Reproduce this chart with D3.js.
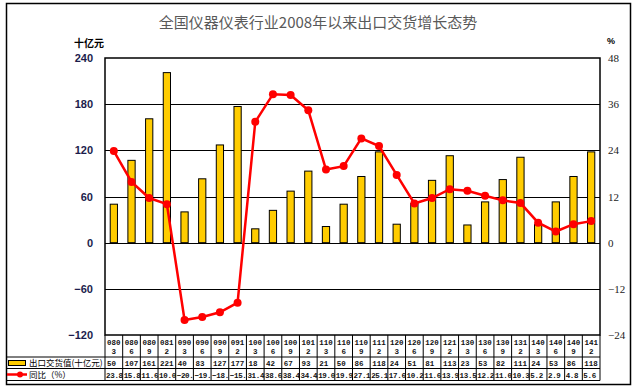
<!DOCTYPE html>
<html>
<head>
<meta charset="utf-8">
<script src="https://cdn.jsdelivr.net/npm/d3@7"></script>
<style>
body { margin: 0; background: #fff; }
</style>
</head>
<body>
<script>
// quarterly categories (yymm)
var categories = ["0803","0806","0809","0812","0903","0906","0909","0912","1003","1006","1009","1012",
    "1103","1106","1109","1112","1203","1206","1209","1212","1303","1306","1309","1312","1403","1406","1409","1412"];
// export delivery value, billion yuan
var exportValue = [50,107,161,221,40,83,127,177,18,42,67,93,21,50,86,118,24,51,81,113,23,53,82,111,24,53,86,118];
// year-on-year growth, %
var yoyGrowth = [23.8,15.8,11.6,10.0,-20.1,-19.3,-18.1,-15.6,31.4,38.6,38.4,34.4,19.0,19.9,27.1,25.1,17.6,10.2,11.6,13.9,13.5,12.2,11.0,10.3,5.2,2.9,4.8,5.6];
var leftTicks = [-120,-60,0,60,120,180,240];
var rightTicks = [-24,-12,0,12,24,36,48];

var w = 637, h = 390;
var plot = {left: 105, right: 600, top: 58, bottom: 335};

var svg = d3.select("body").append("svg")
    .attr("width", w)
    .attr("height", h);

//outer frame
svg.append("rect")
    .attr("x", 6.5).attr("y", 3.5)
    .attr("width", 624).attr("height", 381)
    .attr("fill", "#fff").attr("stroke", "#000").attr("stroke-width", 1.5);

var x = d3.scaleBand()
    .domain(categories)
    .range([plot.left, plot.right])
    .paddingInner(0).paddingOuter(0);

var yL = d3.scaleLinear().domain([-120, 240]).range([plot.bottom, plot.top]);
var yR = d3.scaleLinear().domain([-24, 48]).range([plot.bottom, plot.top]);

//title
svg.append("text")
    .attr("x", 318).attr("y", 28)
    .attr("text-anchor", "middle")
    .style("font-family", "'Noto Sans CJK SC', sans-serif")
    .style("font-size", "15px")
    .style("fill", "#595959")
    .text("全国仪器仪表行业2008年以来出口交货增长态势");

//unit labels
svg.append("text")
    .attr("x", 89).attr("y", 47)
    .attr("text-anchor", "middle")
    .style("font-family", "'Noto Sans CJK SC', sans-serif")
    .style("font-weight", "bold")
    .style("font-size", "10px")
    .text("十亿元");
svg.append("text")
    .attr("x", 607).attr("y", 44)
    .style("font-family", "'Liberation Sans', sans-serif")
    .style("font-weight", "bold")
    .style("font-size", "9px")
    .text("%");

//gridlines
svg.append("g").selectAll("line")
    .data(leftTicks.filter(function (d) { return d > -120 && d < 240; }))
    .enter().append("line")
    .attr("x1", plot.left).attr("x2", plot.right)
    .attr("y1", function (d) { return Math.round(yL(d)) + 0.5; })
    .attr("y2", function (d) { return Math.round(yL(d)) + 0.5; })
    .attr("stroke", "#000").attr("stroke-width", 1);

//bars
var bw = x.bandwidth() * 0.41;
svg.append("g").selectAll("rect")
    .data(exportValue)
    .enter().append("rect")
    .attr("x", function (d, i) { return x(categories[i]) + (x.bandwidth() - bw) / 2; })
    .attr("y", function (d) { return yL(d); })
    .attr("width", bw)
    .attr("height", function (d) { return yL(0) - yL(d); })
    .attr("fill", "#FFCC00")
    .attr("stroke", "#000").attr("stroke-width", 1);

//growth line
var line = d3.line()
    .x(function (d, i) { return x(categories[i]) + x.bandwidth() / 2; })
    .y(function (d) { return yR(d); });
svg.append("path")
    .datum(yoyGrowth)
    .attr("d", line)
    .attr("fill", "none")
    .attr("stroke", "#FF0000").attr("stroke-width", 2.5);
svg.append("g").selectAll("circle")
    .data(yoyGrowth)
    .enter().append("circle")
    .attr("cx", function (d, i) { return x(categories[i]) + x.bandwidth() / 2; })
    .attr("cy", function (d) { return yR(d); })
    .attr("r", 4)
    .attr("fill", "#FF0000");

//plot frame
svg.append("rect")
    .attr("x", plot.left).attr("y", plot.top)
    .attr("width", plot.right - plot.left).attr("height", plot.bottom - plot.top)
    .attr("fill", "none").attr("stroke", "#000").attr("stroke-width", 1.5);

//axes
var axL = svg.append("g")
    .attr("transform", "translate(" + plot.left + ",0)")
    .call(d3.axisLeft(yL).tickValues(leftTicks).tickSize(0).tickPadding(12));
axL.select(".domain").remove();
axL.selectAll("text")
    .style("font-family", "'Liberation Sans', Arial, sans-serif")
    .style("font-weight", "bold")
    .style("font-size", "11px")
    .style("fill", "#1c1c4c");

var axR = svg.append("g")
    .attr("transform", "translate(" + plot.right + ",0)")
    .call(d3.axisRight(yR).tickValues(rightTicks).tickSize(0).tickPadding(8)
        .tickFormat(function (d) { return d < 0 ? "\u2212" + (-d) : d; }));
axR.select(".domain").remove();
axR.selectAll("text")
    .style("font-family", "'Liberation Serif', serif")
    .style("font-size", "11px")
    .style("fill", "#222");

//data table
var rows = {top: plot.bottom, r1: 357, r2: 368.5, bottom: 380.5};
var table = svg.append("g");
[rows.r1, rows.r2, rows.bottom].forEach(function (yy) {
    table.append("line")
        .attr("x1", 6.5).attr("x2", plot.right)
        .attr("y1", yy).attr("y2", yy)
        .attr("stroke", "#000").attr("stroke-width", 1);
});
table.selectAll(".col")
    .data(categories.concat(["end"]))
    .enter().append("line")
    .attr("x1", function (d, i) { return i < categories.length ? x(d) : plot.right; })
    .attr("x2", function (d, i) { return i < categories.length ? x(d) : plot.right; })
    .attr("y1", rows.top).attr("y2", rows.bottom)
    .attr("stroke", "#000").attr("stroke-width", 1);

var cellFont = function (sel) {
    sel.style("font-family", "'Liberation Mono', monospace")
        .style("font-weight", "bold")
        .style("font-size", "7.5px")
        .style("fill", "#111");
};

//cells only show what fits (4 characters), like the original sheet
var fitCell = function (s) { return String(s).slice(0, 4); };

var cells = table.selectAll(".cell")
    .data(categories)
    .enter().append("g");

cells.append("text")
    .attr("x", function (d) { return x(d) + x.bandwidth() / 2; })
    .attr("y", 345)
    .attr("text-anchor", "middle")
    .call(cellFont)
    .text(function (d) { return d.slice(0, 3); });
cells.append("text")
    .attr("x", function (d) { return x(d) + x.bandwidth() / 2; })
    .attr("y", 354)
    .attr("text-anchor", "middle")
    .call(cellFont)
    .text(function (d) { return d.slice(3); });
cells.append("text")
    .attr("x", function (d) { return x(d) + 2; })
    .attr("y", 366)
    .call(cellFont)
    .text(function (d, i) { return exportValue[i]; });
cells.append("text")
    .attr("x", function (d) { return x(d) + 1; })
    .attr("y", 378)
    .call(cellFont)
    .style("letter-spacing", "-0.3px")
    .text(function (d, i) {
        var v = yoyGrowth[i];
        return fitCell(v < 0 ? "\u2212" + (-v).toFixed(1) : v.toFixed(1));
    });

//legend keys inside the table
table.append("rect")
    .attr("x", 8.5).attr("y", 360.5).attr("width", 17).attr("height", 5)
    .attr("fill", "#FFCC00").attr("stroke", "#000").attr("stroke-width", 1);
table.append("text")
    .attr("x", 29).attr("y", 366)
    .style("font-family", "'Noto Sans CJK SC', sans-serif")
    .style("font-size", "8.5px")
    .text("出口交货值(十亿元)");
table.append("line")
    .attr("x1", 7).attr("x2", 27).attr("y1", 374.5).attr("y2", 374.5)
    .attr("stroke", "#FF0000").attr("stroke-width", 2.5);
table.append("circle")
    .attr("cx", 20).attr("cy", 374.5).attr("r", 3)
    .attr("fill", "#FF0000");
table.append("text")
    .attr("x", 29).attr("y", 378)
    .style("font-family", "'Noto Sans CJK SC', sans-serif")
    .style("font-size", "8.5px")
    .text("同比（%）");
</script>
</body>
</html>
